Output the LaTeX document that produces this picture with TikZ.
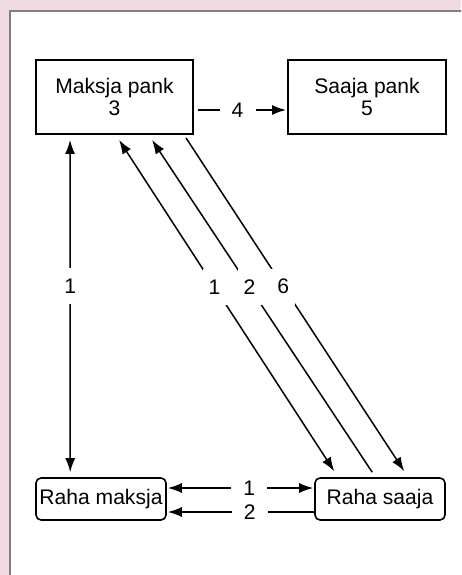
\documentclass[tikz,border=0pt]{standalone}
\usepackage{fontspec}
\setmainfont{Liberation Sans}
\usetikzlibrary{arrows.meta,calc}

\definecolor{pinkb}{RGB}{239,219,224}
\definecolor{grayb}{RGB}{128,128,128}

\begin{document}
\begin{tikzpicture}[x=0.02cm, y=-0.02cm,
                    font=\fontsize{12}{12.5}\selectfont,
                    >={Latex[length=2.8mm,width=2mm]},
                    bank/.style={draw, line width=1.1pt, minimum width=3.14cm, minimum height=1.48cm, align=center, inner sep=0pt},
                    raha/.style={draw, line width=0.9pt, rounded corners=0.1cm, minimum width=2.6cm, minimum height=0.84cm, inner sep=0pt},
                    flow/.style={line width=0.85pt},
                    vgap/.style={fill=white, inner sep=0pt, minimum width=0.48cm, minimum height=0.72cm},
                    hgap/.style={fill=white, inner sep=0pt, minimum width=0.72cm, minimum height=0.3cm}]
                    \useasboundingbox (0,0) rectangle (461,575);
                    \clip (0,0) rectangle (461,575);
                    \fill[pinkb] (0,0) rectangle (461,575);
                    \draw[grayb, fill=white, line width=1.1pt] (10,11) rectangle (480,590);
                    \node[bank] (maksjapank) at (114.5,97) {Maksja pank\\3};
                    \node[bank, minimum width=3.16cm] (saajapank) at (367,97) {Saaja pank\\5};
                    \node[raha] (rahamaksja) at (101,499) {Raha maksja};
                    \node[raha] (rahasaaja) at (380,499) {Raha saaja};
                    \draw[flow, ->] ($(maksjapank.east)+(4,13)$) -- node[hgap, pos=0.45]{4} ($(saajapank.west)+(-1,13)$);
                    \draw[flow, <->] ($(maksjapank.south west)+(35,5)$) -- node[vgap, pos=0.44]{1} ($(rahamaksja.north west)+(35,-5)$);
                    \draw[flow, <->] ($(maksjapank.south west)+(84,5)$) -- node[vgap, pos=0.444]{1} ($(rahasaaja.north west)+(20,-6)$);
                    \draw[flow, <-] ($(maksjapank.south west)+(117,5)$) -- node[vgap, pos=0.443]{2} ($(rahasaaja.north west)+(58,-5)$);
                    \draw[flow, ->] ($(maksjapank.south west)+(151,3)$) -- node[vgap, pos=0.446]{6} ($(rahasaaja.north west)+(90,-6)$);
                    \draw[flow, <->] ($(rahamaksja.east)+(1,-11)$) -- node[hgap, pos=0.56]{1} ($(rahasaaja.west)+(-1,-11)$);
                    \draw[flow, <-] ($(rahamaksja.east)+(1,13)$) -- node[hgap, pos=0.56]{2} ($(rahasaaja.west)+(0,13)$);
                \end{tikzpicture}
\end{document}
